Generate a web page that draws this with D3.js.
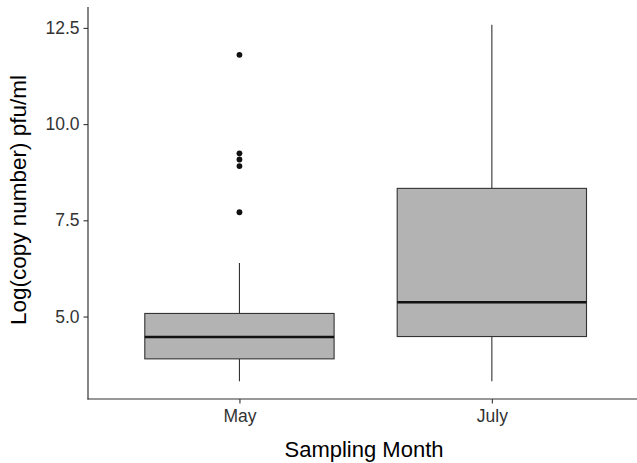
<!DOCTYPE html>
<html>
<head>
<meta charset="utf-8">
<script src="https://cdn.jsdelivr.net/npm/d3@7"></script>
<style>
  html, body { margin: 0; padding: 0; background: #fff; }
  svg { display: block; }
  text { font-family: "Liberation Sans", Arial, Helvetica, sans-serif; }
</style>
</head>
<body>
<div id="chart"></div>
<script>
// ---- Data ----
const categories = ["May", "July"];
const whiskerLow  = [3.32, 3.32];
const q1          = [3.90, 4.48];
const median      = [4.47, 5.37];
const q3          = [5.08, 8.33];
const whiskerHigh = [6.39, 12.58];
const outliersMay  = [11.80, 9.24, 9.08, 8.91, 7.71];
const outliersJuly = [];
const yTicks = [5.0, 7.5, 10.0, 12.5];

const outliers = [outliersMay, outliersJuly];

const W = 637, H = 463;
const mLeft = 88, mTop = 7, mBottom = 399, mRightFull = 643.3;

const svg = d3.select("#chart").append("svg")
  .attr("width", W).attr("height", H);

// y scale with ggplot-style 5% expansion
const allVals = whiskerLow.concat(whiskerHigh, outliersMay, outliersJuly);
const lo = d3.min(allVals), hi = d3.max(allVals);
const pad = (hi - lo) * 0.05;
const y = d3.scaleLinear().domain([lo - pad, hi + pad]).range([mBottom, mTop]);

// discrete x scale with ggplot-style 0.6 expansion
const x = d3.scalePoint().domain(categories).range([mLeft, mRightFull]).padding(0.6);
const boxW = x.step() * 0.75;

const g = svg.append("g");

const data = categories.map((c, i) => ({
  c, lo: whiskerLow[i], q1: q1[i], med: median[i], q3: q3[i], hi: whiskerHigh[i], out: outliers[i]
}));

// whiskers
g.selectAll(".whisk-up").data(data).enter().append("line")
  .attr("x1", d => x(d.c)).attr("x2", d => x(d.c))
  .attr("y1", d => y(d.q3)).attr("y2", d => y(d.hi))
  .attr("stroke", "#333").attr("stroke-width", 1.1);
g.selectAll(".whisk-dn").data(data).enter().append("line")
  .attr("x1", d => x(d.c)).attr("x2", d => x(d.c))
  .attr("y1", d => y(d.q1)).attr("y2", d => y(d.lo))
  .attr("stroke", "#333").attr("stroke-width", 1.1);

// boxes
g.selectAll(".box").data(data).enter().append("rect")
  .attr("x", d => x(d.c) - boxW / 2)
  .attr("width", boxW)
  .attr("y", d => y(d.q3))
  .attr("height", d => y(d.q1) - y(d.q3))
  .attr("fill", "#b3b3b3")
  .attr("stroke", "#333").attr("stroke-width", 1.1);

// medians
g.selectAll(".med").data(data).enter().append("line")
  .attr("x1", d => x(d.c) - boxW / 2).attr("x2", d => x(d.c) + boxW / 2)
  .attr("y1", d => y(d.med)).attr("y2", d => y(d.med))
  .attr("stroke", "#111").attr("stroke-width", 2.4);

// outliers
data.forEach(d => {
  g.selectAll(null).data(d.out).enter().append("circle")
    .attr("cx", x(d.c)).attr("cy", v => y(v)).attr("r", 2.9)
    .attr("fill", "#111");
});

// axes
const yAxis = d3.axisLeft(y).tickValues(yTicks).tickFormat(d3.format(".1f")).tickSize(4.5).tickPadding(4);
const yG = svg.append("g").attr("transform", `translate(${mLeft},0)`).call(yAxis);
yG.select(".domain").remove();
yG.append("line").attr("x1", 0).attr("x2", 0).attr("y1", mTop).attr("y2", mBottom + 0.5)
  .attr("stroke", "#333").attr("stroke-width", 1.2);
yG.selectAll(".tick line").attr("stroke", "#333").attr("stroke-width", 1.1);
yG.selectAll(".tick text").attr("fill", "#333").style("font-size", "17.5px")
  .style("font-family", '"Liberation Sans", Arial, sans-serif');

const xAxis = d3.axisBottom(x).tickSize(4.5).tickPadding(6);
const xG = svg.append("g").attr("transform", `translate(0,${mBottom})`).call(xAxis);
xG.select(".domain").remove();
xG.append("line").attr("x1", mLeft - 0.5).attr("x2", W).attr("y1", 0).attr("y2", 0)
  .attr("stroke", "#333").attr("stroke-width", 1.2);
xG.selectAll(".tick line").attr("stroke", "#333").attr("stroke-width", 1.1);
xG.selectAll(".tick text").attr("fill", "#333").style("font-size", "17.5px")
  .style("font-family", '"Liberation Sans", Arial, sans-serif');

// axis titles
svg.append("text")
  .attr("x", 364).attr("y", 456.5)
  .attr("text-anchor", "middle")
  .style("font-size", "22px").attr("fill", "#000")
  .text("Sampling Month");

svg.append("text")
  .attr("transform", "translate(26,200) rotate(-90)")
  .attr("text-anchor", "middle")
  .style("font-size", "22.5px").attr("fill", "#000")
  .text("Log(copy number) pfu/ml");
</script>
</body>
</html>
